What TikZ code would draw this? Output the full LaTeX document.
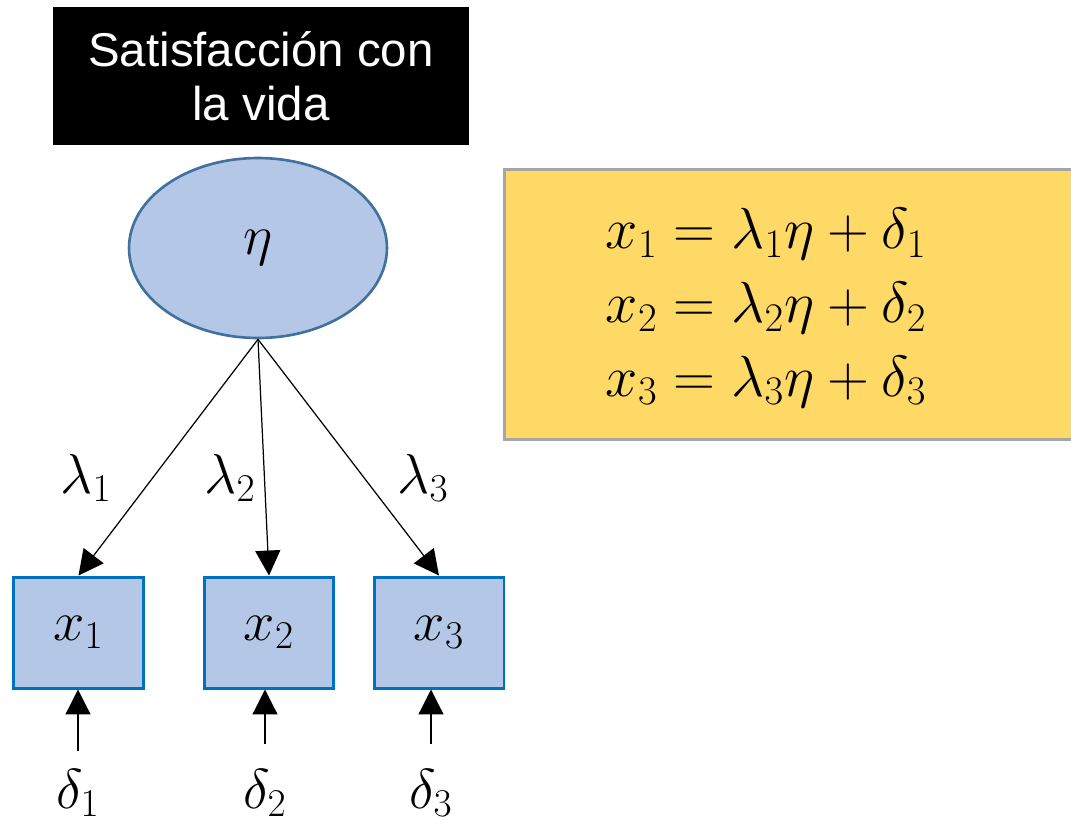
\documentclass[tikz,border=0pt]{standalone}
\usepackage{fix-cm}
\usepackage{fontspec}
\setsansfont{Liberation Sans}
\usepackage{xcolor}
\usepackage{tikz}
\usetikzlibrary{shapes,arrows.meta,positioning}

\definecolor{latentfill}{HTML}{B4C7E7}
\definecolor{latentline}{HTML}{41719C}
\definecolor{boxline}{HTML}{0070C0}
\definecolor{eqfill}{HTML}{FFD966}
\definecolor{eqline}{HTML}{A6A6A6}
\newcommand{\mathsize}{\fontsize{32}{42}\selectfont}

\begin{document}
\begin{tikzpicture}[
    x=0.02cm, y=-0.02cm,
    title/.style={rectangle, fill=black, text=white, minimum width=8.32cm, minimum height=2.76cm, align=center, font=\sffamily\fontsize{27}{31}\selectfont},
    latent/.style={ellipse, draw=latentline, line width=1.5pt, fill=latentfill, minimum width=5.16cm, minimum height=3.6cm, font=\mathsize},
    observed/.style={rectangle, draw=boxline, line width=1.7pt, fill=latentfill, minimum width=2.6cm, minimum height=2.22cm, font=\mathsize},
    err/.style={inner sep=0pt, font=\mathsize},
    load/.style={inner sep=0pt, font=\mathsize},
    arrow/.style={-{Triangle[length=0.5cm, width=0.5cm]}, line width=0.7pt}
]
\useasboundingbox (0,0) rectangle (1071,826);

% latent factor
\node[title] (title) at (261,76) {Satisfacción con\\la vida};
\node[latent] (eta) at (258,248) {$\eta$};

% indicators
\node[observed] (x1) at (78.5,632.5) {$x_1$};
\node[observed] (x2) at (269,632.5) {$x_2$};
\node[observed] (x3) at (439,632.5) {$x_3$};

\draw[arrow] (eta.south) -- (x1.north);
\draw[arrow] (eta.south) -- (x2.north);
\draw[arrow] (eta.south) -- (x3.north);

\node[load] (l1) at (86,478) {$\lambda_1$};
\node[load] (l2) at (230,478) {$\lambda_2$};
\node[load] (l3) at (423,478) {$\lambda_3$};

% errors
\node[err] (d1) at (78,793) {$\delta_1$};
\node[err] (d2) at (265,793) {$\delta_2$};
\node[err] (d3) at (431,793) {$\delta_3$};

\draw[arrow, shorten <=0.35cm] (d1.north) -- (d1.north |- x1.south);
\draw[arrow, shorten <=0.5cm] (d2.north) -- (d2.north |- x2.south);
\draw[arrow, shorten <=0.5cm] (d3.north) -- (d3.north |- x3.south);

% equations
\node[rectangle, draw=eqline, line width=1.7pt, fill=eqfill, minimum width=11.5cm, minimum height=5.42cm] (eqbox) at (792,304.5) {};
\node[align=center, font=\fontsize{33}{42}\selectfont] (eqs) at (766,308) {$x_1 = \lambda_1\eta + \delta_1$\\$x_2 = \lambda_2\eta + \delta_2$\\$x_3 = \lambda_3\eta + \delta_3$};

\end{tikzpicture}
\end{document}
